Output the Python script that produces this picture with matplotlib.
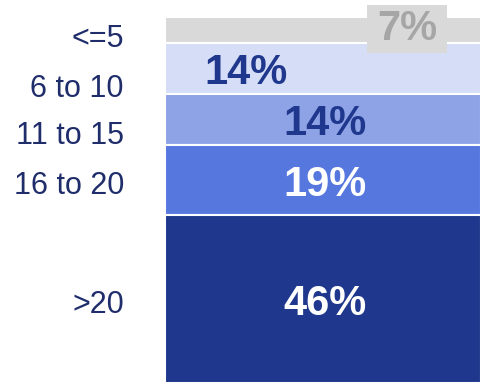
import numpy as np
import matplotlib
matplotlib.use("Agg")
import matplotlib.pyplot as plt
from matplotlib.patches import Rectangle
from matplotlib.transforms import IdentityTransform

plt.rcParams["font.family"] = ["Liberation Sans", "DejaVu Sans"]

# share of respondents by group, top of the bar to bottom
groups = ["<=5", "6 to 10", "11 to 15", "16 to 20", ">20"]
shares = [7, 14, 14, 19, 46]

seg_colors = ["#d9d9d9", "#d5ddf7", "#8ea3e6", "#5677de", "#1f378c"]
pct_colors = ["#a6a6a6", "#1f378c", "#1f378c", "#ffffff", "#ffffff"]
pct_x = [0.766, 0.256, 0.506, 0.506, 0.506]      # label x in axes fraction
name_nudge = [-2.6, -5.6, -4.4, -1.6, -1.8]      # category label shift (data units)
label_navy = "#1f2d6b"

fig = plt.figure(figsize=(4.81, 3.83), dpi=100)
ax = fig.add_axes([165 / 481, 0, 1 - 165 / 481, 366 / 383])

# stack from the bottom up (largest group sits at the base)
tops = 100 - np.cumsum([0] + shares[:-1])
bottoms = tops - np.array(shares)
for b, s, c in zip(bottoms, shares, seg_colors):
    ax.bar(0, s, bottom=b, width=1, color=c, edgecolor="white", linewidth=1.5)

pct_texts = []
for i, (g, s) in enumerate(zip(groups, shares)):
    mid = bottoms[i] + s / 2
    dy = -0.1 if i == 0 else 1.3
    t = ax.text(pct_x[i], mid - dy, f"{s}%", transform=ax.get_yaxis_transform(),
                ha="center", va="center", fontsize=30, fontweight="bold",
                color=pct_colors[i], zorder=4, clip_on=False)
    pct_texts.append(t)
    ax.text(-0.13, mid + name_nudge[i], g, transform=ax.get_yaxis_transform(),
            ha="right", va="center", fontsize=22, color=label_navy, clip_on=False)

ax.set_xlim(-0.5, 0.5)
ax.set_ylim(0, 100)
ax.axis("off")

# grey tag behind the small top value, sized from the rendered text
fig.canvas.draw()
bb = pct_texts[0].get_window_extent()
padx, pady = 9.5, 4
ax.add_patch(Rectangle((bb.x0 - padx, bb.y0 - pady), bb.width + 2 * padx,
                       bb.height + 2 * pady, transform=IdentityTransform(),
                       facecolor="#d9d9d9", edgecolor="none", zorder=3,
                       clip_on=False))

fig.savefig("out.png", dpi=100)
